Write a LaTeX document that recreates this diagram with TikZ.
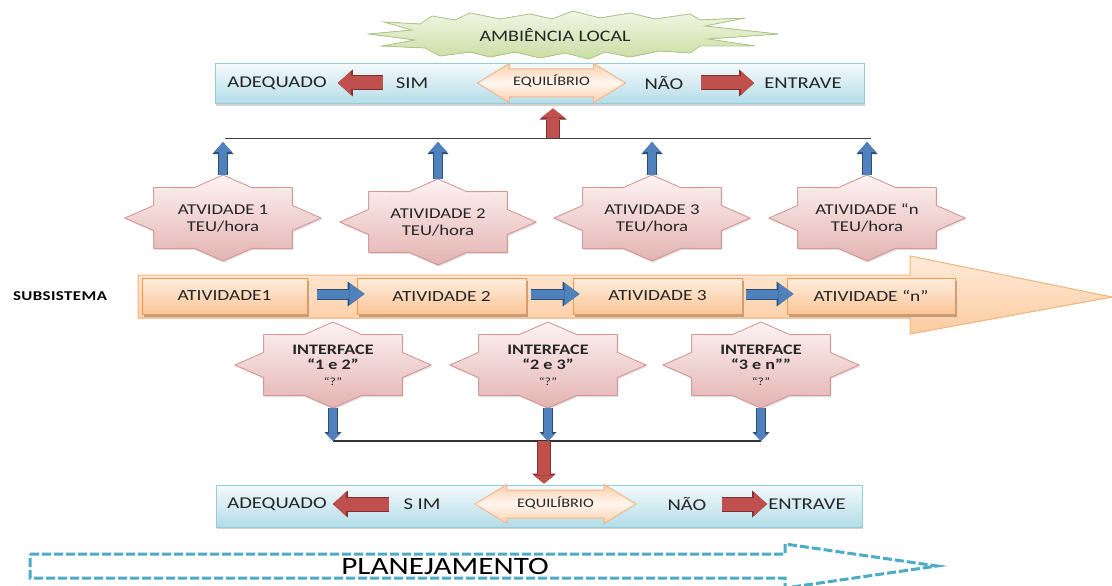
\documentclass[tikz,border=0pt]{standalone}
\usepackage{fontspec}
\setmainfont{Carlito}[FakeStretch=1.25]
\usetikzlibrary{arrows.meta,calc,shapes.arrows,shadows}
\definecolor{blueF}{HTML}{4F81BD}
\definecolor{blueD}{HTML}{2C4D75}
\definecolor{redF}{HTML}{C0504D}
\definecolor{redD}{HTML}{7F2F2D}
\definecolor{starT}{HTML}{FDF3F3}
\definecolor{starB}{HTML}{E3B3B1}
\definecolor{starE}{HTML}{D99694}
\definecolor{barT}{HTML}{F4FAFC}
\definecolor{barB}{HTML}{B3DCE7}
\definecolor{barE}{HTML}{93CDDD}
\definecolor{boxT}{HTML}{FEEEDF}
\definecolor{boxB}{HTML}{FBC597}
\definecolor{boxE}{HTML}{F79646}
\definecolor{bandT}{HTML}{FEEBDA}
\definecolor{bandB}{HTML}{FCCB9E}
\definecolor{bandE}{HTML}{F9B47A}
\definecolor{eqT}{HTML}{FCD0AC}
\definecolor{eqM}{HTML}{FFF6EF}
\definecolor{eqE}{HTML}{F5B58A}
\definecolor{grT}{HTML}{F1F6E6}
\definecolor{grB}{HTML}{CBDDA3}
\definecolor{grE}{HTML}{AFC88A}
\definecolor{planC}{HTML}{4BACC6}
\definecolor{txt}{HTML}{262626}
\newcommand\myfs[2]{\fontsize{#1}{#2}\selectfont}
\newcommand\octo[5]{%
  \filldraw[starpath, shift={(#2,#3)}] (0:98 and 43) \foreach \a in {0,45,...,315}{ -- (\a+22.5:75 and 32.9) -- (\a+45:98 and 43)} -- cycle;
  \node[starnode, #5] (#1) at (#2,#3) {#4};
}
\newcommand\blockarr[8]{%
  \pgfmathsetmacro\baIw{#3-2}%
  \pgfmathsetmacro\baIhw{#4-3}%
  \pgfmathsetmacro\baIhl{#5-1.8}%
  \draw[#8, draw=#1, line width=#3pt, -{Triangle[width=#4pt,length=#5pt,line width=0pt]}] #6 -- #7;
  \draw[#8, draw=#2, line width=\baIw pt, -{Triangle[width=\baIhw pt,length=\baIhl pt,line width=0pt]}] #6 -- #7;
}
\tikzset{
  starpath/.style={draw=starE, line width=0.8pt, top color=starT, bottom color=starB,
    drop shadow={shadow xshift=1pt, shadow yshift=-1.5pt, opacity=0.25}},
  starnode/.style={minimum width=196pt, minimum height=86pt, inner sep=0pt, align=center, text=txt},
  actfont/.style={font=\myfs{15}{17}},
  intfont/.style={font=\bfseries\myfs{14.5}{15.5}},
  bar/.style={draw=barE, line width=1pt, top color=barT, bottom color=barB,
    drop shadow={shadow xshift=1pt, shadow yshift=-2pt, opacity=0.35}},
  bartext/.style={inner sep=0pt, text=txt, font=\myfs{16.5}{18}},
  abox/.style={draw=boxE, line width=1pt, top color=boxT, bottom color=boxB, inner sep=0pt,
    drop shadow={shadow xshift=2pt, shadow yshift=-2.5pt, opacity=0.6},
    font=\myfs{15.5}{17}, text=txt},
  eqarrow/.style={double arrow, double arrow head extend=5.5pt, double arrow tip angle=63,
    draw=eqE, line width=1pt, top color=eqT, bottom color=eqT, middle color=eqM,
    minimum width=38pt, inner xsep=2pt, inner ysep=8.5pt, text height=8pt, text depth=2pt,
    font=\myfs{13}{15}, text=txt},
  topline/.style={draw=black!75, line width=1pt},
  botline/.style={draw=black!80, line width=2pt},
}
\begin{document}
\begin{tikzpicture}[x=1pt,y=-1pt]
\fill[white] (0,0) rectangle (1112,586);
\useasboundingbox (0,0) rectangle (1112,586);

% Ambiencia local
\filldraw[draw=grE, line width=0.8pt, top color=grT, bottom color=grB]
  (369,34) -- (412,30) -- (384,22) -- (420,24) -- (432,16) -- (455,20) -- (470,13) -- (500,19)
  -- (530,14) -- (552,19) -- (573,11) -- (600,18) -- (630,13) -- (655,19) -- (690,14) -- (700,20)
  -- (745,18) -- (705,26) -- (778,34) -- (708,39) -- (755,46) -- (700,46) -- (690,53) -- (660,51)
  -- (630,57) -- (605,52) -- (589,59) -- (565,53) -- (540,58) -- (515,52) -- (490,57) -- (470,52)
  -- (440,56) -- (425,48) -- (382,46) -- (415,40) -- cycle;
\node[text=txt, font=\myfs{16}{18}] (amb) at (555,35) {AMBIÊNCIA LOCAL};

% top bar
\node[bar, minimum width=649pt, minimum height=40pt] (bar1) at (539.5,84) {};
\node[bartext] (adq1) at (277,83) {ADEQUADO};
\node[bartext] (sim1) at (412,83) {SIM};
\node[eqarrow, minimum height=148pt] (equ1) at (551.5,83) {EQUILÍBRIO};
\node[bartext] (nao1) at (664,83) {NÃO};
\node[bartext] (ent1) at (803,83) {ENTRAVE};
\blockarr{redD}{redF}{15}{27}{15}{(sim1)}{(adq1)}{shorten <=13pt, shorten >=11pt}
\blockarr{redD}{redF}{15}{27}{15}{(nao1)}{(ent1)}{shorten <=17pt, shorten >=10pt}

% activity stars
\octo{a1}{223}{218}{ATVIDADE 1\\TEU/hora}{actfont}
\octo{a2}{438}{222}{ATIVIDADE 2\\TEU/hora}{actfont}
\octo{a3}{652}{218}{ATIVIDADE 3\\TEU/hora}{actfont}
\octo{an}{867}{218}{ATIVIDADE “n\\TEU/hora}{actfont}

% top connector line
\coordinate (tl) at (225,138);
\coordinate (tr) at (871,138);
\coordinate (tm) at (553,138);
\draw[topline] (tl) -- (tr);
\foreach \s in {a1,a2,a3,an}{
  \blockarr{blueD}{blueF}{10}{21}{12}{(\s.north)}{($(\s.north |- tl)+(0,4)$)}{}
}
\blockarr{redD}{redF}{14}{27}{11}{(tm)}{(tm |- bar1.south)}{shorten >=4pt}

% subsystem band
\filldraw[draw=bandE, line width=1pt, top color=bandT, bottom color=bandB]
  (138,275) -- (910,275) -- (910,256) -- (1112,297) -- (910,334) -- (910,318) -- (138,318) -- cycle;
\node[text=black, font=\bfseries\myfs{13.5}{15}\addfontfeatures{LetterSpace=3}] (sub) at (60,296) {SUBSISTEMA};
\node[abox, minimum width=165pt, minimum height=36pt] (b1) at (224.5,296) {ATIVIDADE1};
\node[abox, minimum width=169pt, minimum height=36pt] (b2) at (441.5,296) {\raisebox{-4pt}{ATIVIDADE 2}};
\node[abox, minimum width=169pt, minimum height=36pt] (b3) at (657.5,296) {\raisebox{-4pt}{ATIVIDADE 3}};
\node[abox, minimum width=168pt, minimum height=36pt] (bn) at (871,296) {\raisebox{-4pt}{ATIVIDADE “n”}};
\blockarr{blueD}{blueF}{11}{25}{17}{([xshift=9pt,yshift=2pt]b1.east)}{([xshift=8pt,yshift=2pt]b2.west)}{}
\blockarr{blueD}{blueF}{11}{25}{17}{([xshift=4pt,yshift=2pt]b2.east)}{([xshift=7pt,yshift=2pt]b3.west)}{}
\blockarr{blueD}{blueF}{11}{25}{17}{([xshift=3pt,yshift=2pt]b3.east)}{([xshift=7pt,yshift=2pt]bn.west)}{}

% interface stars
\octo{i1}{333}{365}{INTERFACE\\“1 e 2”\\{\mdseries\myfs{11}{15}“?”}}{intfont}
\octo{i2}{548}{365}{INTERFACE\\“2 e 3”\\{\mdseries\myfs{11}{15}“?”}}{intfont}
\octo{i3}{761}{365}{INTERFACE\\“3 e n””\\{\mdseries\myfs{11}{15}“?”}}{intfont}

% bottom bar
\node[bar, minimum width=646pt, minimum height=42pt] (bar2) at (539,506) {};
\node[bartext] (adq2) at (277,504) {ADEQUADO};
\node[bartext] (sim2) at (422,504) {S IM};
\node[eqarrow, minimum height=161pt] (equ2) at (555.5,504) {EQUILÍBRIO};
\node[bartext] (nao2) at (687,504) {NÃO};
\node[bartext] (ent2) at (807,504) {ENTRAVE};
\blockarr{redD}{redF}{15}{27}{15}{(sim2)}{(adq2)}{shorten <=14pt, shorten >=6pt}
\blockarr{redD}{redF}{15}{27}{15}{(nao2)}{(ent2)}{shorten <=15pt, shorten >=1pt}

\coordinate (bline) at (0,441);
\coordinate (bm) at (544,441);
\draw[botline] (i1.south |- bline) -- (i3.south |- bline);
\foreach \s in {i1,i2,i3}{
  \blockarr{blueD}{blueF}{10}{17}{9}{(\s.south)}{(\s.south |- bline)}{}
}
\blockarr{redD}{redF}{14}{24}{10}{(bm)}{(bm |- bar2.north)}{shorten >=1pt}

% planejamento
\draw[planC, line width=3pt, dash pattern=on 9pt off 3pt]
  (30,554) -- (785,554) -- (785,544) -- (937,566) -- (785,588) -- (785,578) -- (30,578) -- cycle;
\node[text=black, font=\myfs{25}{27}] (plan) at (445,566) {PLANEJAMENTO};
\end{tikzpicture}
\end{document}
